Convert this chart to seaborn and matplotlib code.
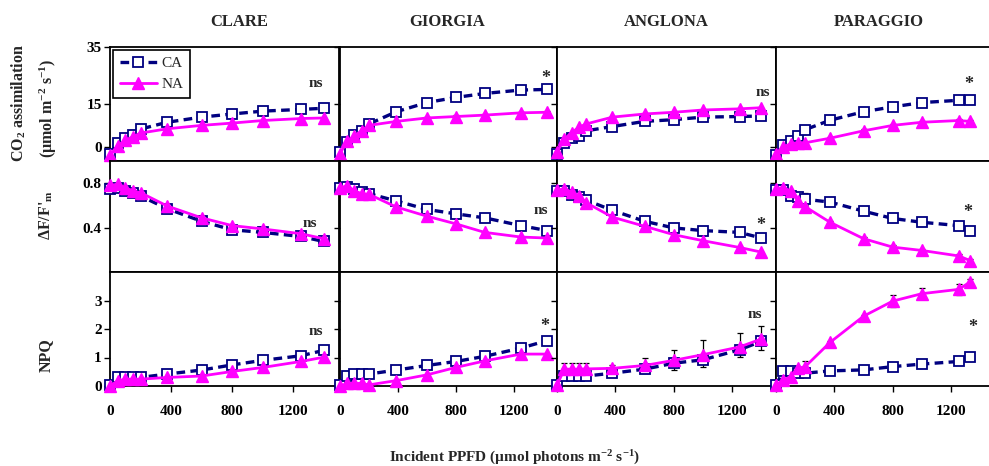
import numpy as np
import pandas as pd
import matplotlib
matplotlib.use("Agg")
import matplotlib.pyplot as plt
import seaborn as sns

# ---------------- data ----------------
cultivars = ["CLARE", "GIORGIA", "ANGLONA", "PARAGGIO"]
treatments = ["CA", "NA"]

ppfd_clare = [0, 50, 100, 150, 200, 375, 600, 800, 1000, 1250, 1400]
ppfd_giorgia = [0, 50, 100, 150, 200, 390, 600, 800, 1000, 1250, 1430]
ppfd_anglona = [0, 50, 100, 150, 200, 380, 600, 800, 1000, 1250, 1400]
ppfd_paraggio = [0, 50, 100, 150, 200, 370, 600, 800, 1000, 1250, 1330]

# CO2 assimilation
co2_ca_clare = [-2.4, 1.2, 3.0, 4.2, 6.2, 8.6, 10.4, 11.5, 12.5, 13.1, 13.5]
co2_na_clare = [-3.0, 0.3, 2.3, 3.5, 4.8, 6.3, 7.5, 8.3, 9.2, 9.9, 10.1]
co2_ca_giorgia = [-1.8, 1.8, 4.2, 5.6, 8.0, 12.3, 15.5, 17.3, 18.7, 19.9, 20.1]
co2_na_giorgia = [-2.4, 2.0, 3.9, 5.6, 7.5, 8.9, 10.1, 10.6, 11.1, 11.9, 12.1]
co2_ca_anglona = [-2.4, 1.2, 3.0, 3.8, 5.6, 7.1, 8.9, 9.5, 10.4, 10.6, 10.8]
co2_na_anglona = [-1.8, 2.6, 5.0, 6.8, 8.0, 10.4, 11.5, 12.1, 12.9, 13.3, 13.7]
co2_ca_paraggio = [-3.0, 0.6, 2.0, 3.8, 6.0, 9.3, 12.3, 14.0, 15.5, 16.3, 16.5]
co2_na_paraggio = [-2.4, 0.0, 1.0, 1.4, 1.4, 3.0, 5.6, 7.5, 8.6, 9.2, 8.9]

# deltaF/F'm
fv_ca_clare = [0.745, 0.76, 0.73, 0.71, 0.685, 0.57, 0.457, 0.38, 0.357, 0.32, 0.275]
fv_na_clare = [0.78, 0.79, 0.76, 0.73, 0.715, 0.594, 0.488, 0.418, 0.388, 0.345, 0.30]
fv_ca_giorgia = [0.76, 0.766, 0.75, 0.72, 0.706, 0.64, 0.564, 0.524, 0.488, 0.418, 0.373]
fv_na_giorgia = [0.76, 0.776, 0.73, 0.706, 0.70, 0.585, 0.503, 0.434, 0.357, 0.315, 0.306]
fv_ca_anglona = [0.73, 0.73, 0.69, 0.676, 0.648, 0.555, 0.457, 0.397, 0.373, 0.357, 0.306]
fv_na_anglona = [0.736, 0.75, 0.72, 0.685, 0.624, 0.494, 0.412, 0.336, 0.282, 0.221, 0.179]
fv_ca_paraggio = [0.74, 0.74, 0.685, 0.68, 0.655, 0.63, 0.548, 0.482, 0.448, 0.418, 0.367]
fv_na_paraggio = [0.752, 0.76, 0.73, 0.64, 0.588, 0.448, 0.30, 0.224, 0.194, 0.145, 0.103]

# NPQ
npq_ca_clare = [0.03, 0.30, 0.30, 0.30, 0.30, 0.42, 0.56, 0.74, 0.90, 1.06, 1.25]
npq_na_clare = [0.0, 0.18, 0.24, 0.24, 0.24, 0.30, 0.35, 0.51, 0.65, 0.86, 1.01]
npq_ca_giorgia = [0.03, 0.35, 0.42, 0.42, 0.42, 0.56, 0.72, 0.86, 1.04, 1.33, 1.59]
npq_na_giorgia = [0.0, 0.09, 0.09, 0.09, 0.04, 0.19, 0.39, 0.65, 0.88, 1.12, 1.12]
npq_ca_anglona = [0.03, 0.35, 0.35, 0.35, 0.35, 0.45, 0.59, 0.80, 0.92, 1.27, 1.57]
npq_na_anglona = [0.03, 0.59, 0.59, 0.59, 0.60, 0.62, 0.72, 0.90, 1.10, 1.37, 1.65]
npq_ca_paraggio = [0.03, 0.53, 0.53, 0.47, 0.45, 0.53, 0.565, 0.68, 0.77, 0.86, 1.01]
npq_na_paraggio = [0.03, 0.21, 0.33, 0.62, 0.68, 1.53, 2.45, 2.98, 3.24, 3.39, 3.65]

# error bars
co2_err_na_giorgia = [0, 0, 0, 0, 0, 0, 0.5, 0.5, 0.5, 0.4, 0.4]
co2_err_na_paraggio = [0, 0, 0, 0, 0, 0.5, 0.5, 0.5, 0.4, 0.5, 0.5]
fv_err_ca_paraggio = [0, 0, 0.02, 0.03, 0.06, 0.025, 0.025, 0.03, 0.025, 0.03, 0.03]
fv_err_na_paraggio = [0, 0, 0, 0.015, 0.02, 0.015, 0.015, 0.015, 0.015, 0.015, 0.015]
npq_err_ca_anglona = [0, 0.1, 0.1, 0.1, 0.1, 0.1, 0.15, 0.24, 0.25, 0.25, 0.3]
npq_err_na_anglona = [0, 0.22, 0.22, 0.22, 0.22, 0.1, 0.26, 0.35, 0.5, 0.5, 0.45]
npq_err_na_paraggio = [0, 0, 0, 0, 0.2, 0.05, 0.05, 0.2, 0.2, 0.2, 0.1]
npq_err_ca_paraggio = [0, 0, 0, 0, 0, 0, 0, 0.05, 0.05, 0.05, 0.05]
no_err = [0] * 11

sig_co2 = ["ns", "*", "ns", "*"]
sig_fv = ["ns", "ns", "*", "*"]
sig_npq = ["ns", "*", "ns", "*"]

x_ticks = [0, 400, 800, 1200]

# ---------------- long table ----------------
ppfd = dict(CLARE=ppfd_clare, GIORGIA=ppfd_giorgia, ANGLONA=ppfd_anglona, PARAGGIO=ppfd_paraggio)
series = {
    ("co2", "CLARE"): (co2_ca_clare, co2_na_clare),
    ("co2", "GIORGIA"): (co2_ca_giorgia, co2_na_giorgia),
    ("co2", "ANGLONA"): (co2_ca_anglona, co2_na_anglona),
    ("co2", "PARAGGIO"): (co2_ca_paraggio, co2_na_paraggio),
    ("fv", "CLARE"): (fv_ca_clare, fv_na_clare),
    ("fv", "GIORGIA"): (fv_ca_giorgia, fv_na_giorgia),
    ("fv", "ANGLONA"): (fv_ca_anglona, fv_na_anglona),
    ("fv", "PARAGGIO"): (fv_ca_paraggio, fv_na_paraggio),
    ("npq", "CLARE"): (npq_ca_clare, npq_na_clare),
    ("npq", "GIORGIA"): (npq_ca_giorgia, npq_na_giorgia),
    ("npq", "ANGLONA"): (npq_ca_anglona, npq_na_anglona),
    ("npq", "PARAGGIO"): (npq_ca_paraggio, npq_na_paraggio),
}
rows = []
for (var, cv), (ca, na) in series.items():
    for trt, vals in zip(treatments, (ca, na)):
        for xv, yv in zip(ppfd[cv], vals):
            rows.append(dict(variable=var, cultivar=cv, treatment=trt, ppfd=xv, value=yv))
df = pd.DataFrame(rows)

# (variable, cultivar, treatment) -> (lower, upper)
errors = {
    ("co2", "GIORGIA", "NA"): (no_err, co2_err_na_giorgia),
    ("co2", "PARAGGIO", "NA"): (no_err, co2_err_na_paraggio),
    ("fv", "PARAGGIO", "CA"): (fv_err_ca_paraggio, fv_err_ca_paraggio),
    ("fv", "PARAGGIO", "NA"): (fv_err_na_paraggio, fv_err_na_paraggio),
    ("npq", "ANGLONA", "CA"): (npq_err_ca_anglona, no_err),
    ("npq", "ANGLONA", "NA"): (no_err, npq_err_na_anglona),
    ("npq", "PARAGGIO", "CA"): (npq_err_ca_paraggio, npq_err_ca_paraggio),
    ("npq", "PARAGGIO", "NA"): (npq_err_na_paraggio, npq_err_na_paraggio),
}

# ---------------- style ----------------
sns.set_theme(style="ticks")
plt.rcParams['font.family'] = ['Liberation Serif', 'DejaVu Serif']
plt.rcParams['font.weight'] = 'bold'
plt.rcParams['mathtext.fontset'] = 'custom'
plt.rcParams['mathtext.rm'] = 'Liberation Serif:bold'
plt.rcParams['mathtext.it'] = 'Liberation Serif:bold'
plt.rcParams['mathtext.bf'] = 'Liberation Serif:bold'
plt.rcParams['axes.edgecolor'] = 'black'
plt.rcParams['xtick.color'] = 'black'
plt.rcParams['ytick.color'] = 'black'

W, H = 989, 466
fig = plt.figure(figsize=(W / 100, H / 100), dpi=100)
fig.patch.set_facecolor('white')

lefts = [110, 340, 557, 776]
widths = [229, 217, 219, 219]
tops = [47, 161, 272]
bottoms = [161, 272, 386]

row_cfg = [
    ("co2", (-5, 35), [0, 15, 35], ["0", "15", "35"], sig_co2,
     [(0.90, 0.68), (0.949, 0.72), (0.94, 0.60), (0.88, 0.67)]),
    ("fv", (0, 1.0), [0.4, 0.8], ["0.4", "0.8"], sig_fv,
     [(0.873, 0.44), (0.926, 0.555), (0.932, 0.42), (0.877, 0.535)]),
    ("npq", (0, 4), [0, 1, 2, 3], ["0", "1", "2", "3"], sig_npq,
     [(0.90, 0.48), (0.945, 0.52), (0.904, 0.63), (0.90, 0.51)]),
]

styles = {
    "CA": dict(color="#000080", linestyle=(0, (2.6, 1.6)), linewidth=2.4, marker="s",
               markersize=7, markerfacecolor="white", markeredgecolor="#000080",
               markeredgewidth=1.3, zorder=3),
    "NA": dict(color="#FF00FF", linestyle="-", linewidth=2.0, marker="^",
               markersize=8, markerfacecolor="#FF00FF", markeredgecolor="#FF00FF",
               markeredgewidth=1.0, zorder=4),
}

for r, (var, ylim, yt, ytl, sigs, sigpos) in enumerate(row_cfg):
    for c, cv in enumerate(cultivars):
        ax = fig.add_axes([lefts[c] / W, 1 - bottoms[r] / H, widths[c] / W,
                           (bottoms[r] - tops[r]) / H])
        sub = df[(df.variable == var) & (df.cultivar == cv)]
        for trt in treatments:
            d = sub[sub.treatment == trt]
            key = (var, cv, trt)
            if key in errors:
                lo, hi = errors[key]
                ax.errorbar(d.ppfd.values, d.value.values, yerr=[lo, hi], fmt='none',
                            ecolor='black', elinewidth=0.9, capsize=2.5, capthick=0.9,
                            zorder=2, clip_on=False)
            sns.lineplot(data=d, x="ppfd", y="value", ax=ax, sort=False, estimator=None,
                         errorbar=None, legend=False, clip_on=False, **styles[trt])
        ax.set_xlim(0, 1500)
        ax.set_ylim(*ylim)
        ax.set_xticks(x_ticks)
        ax.set_yticks(yt)
        if c == 0:
            ax.set_yticklabels(ytl)
        else:
            ax.set_yticklabels([])
        if r == 2:
            ax.set_xticklabels([str(v) for v in x_ticks])
        else:
            ax.set_xticklabels([])
        ax.set_xlabel("")
        ax.set_ylabel("")
        ax.tick_params(direction='out', length=4, width=1.0, labelsize=11, pad=2)
        ax.tick_params(axis='x', pad=10)
        for s in ax.spines.values():
            s.set_visible(True)
            s.set_linewidth(1.3)
            s.set_color('black')
        ax.text(sigpos[c][0], sigpos[c][1], sigs[c], transform=ax.transAxes,
                ha='center', va='center', fontsize=11 if sigs[c] == "ns" else 13,
                fontweight='bold', zorder=6)
        if r == 0 and c == 0:
            handles = ax.lines[-2:]
            leg = ax.legend(handles, treatments, loc='upper left',
                            bbox_to_anchor=(0.013, 0.975), frameon=True, fancybox=False,
                            edgecolor='black', framealpha=1,
                            prop={'weight': 'normal', 'size': 11},
                            handlelength=2.4, borderaxespad=0, borderpad=0.45,
                            labelspacing=0.45, handletextpad=0.3)
            leg.get_frame().set_linewidth(1.2)
            leg.set_zorder(10)

# column titles
title_x = [239, 447, 666, 879]
for cv, tx in zip(cultivars, title_x):
    fig.text(tx / W, 1 - 22 / H, cv, ha='center', va='center', fontsize=12, fontweight='bold')

# y labels
fig.text(19 / W, 1 - 103 / H, "CO$_2$ assimilation", rotation=90, ha='center', va='center',
         fontsize=11.5, fontweight='bold')
fig.text(48 / W, 1 - 108 / H, "(µmol m$^{-2}$ s$^{-1}$)", rotation=90, ha='center', va='center',
         fontsize=11.5, fontweight='bold')
fig.text(46 / W, 1 - 215 / H, "ΔF/F'$_\\mathregular{m}$", rotation=90, ha='center', va='center',
         fontsize=11.5, fontweight='bold')
fig.text(46 / W, 1 - 355 / H, "NPQ", rotation=90, ha='center', va='center',
         fontsize=11.5, fontweight='bold')

# x label
fig.text(515 / W, 1 - 458 / H, "Incident PPFD (µmol photons m$^{-2}$ s$^{-1}$)",
         ha='center', va='center', fontsize=11, fontweight='bold')

fig.savefig("out.png", dpi=100, facecolor='white')
